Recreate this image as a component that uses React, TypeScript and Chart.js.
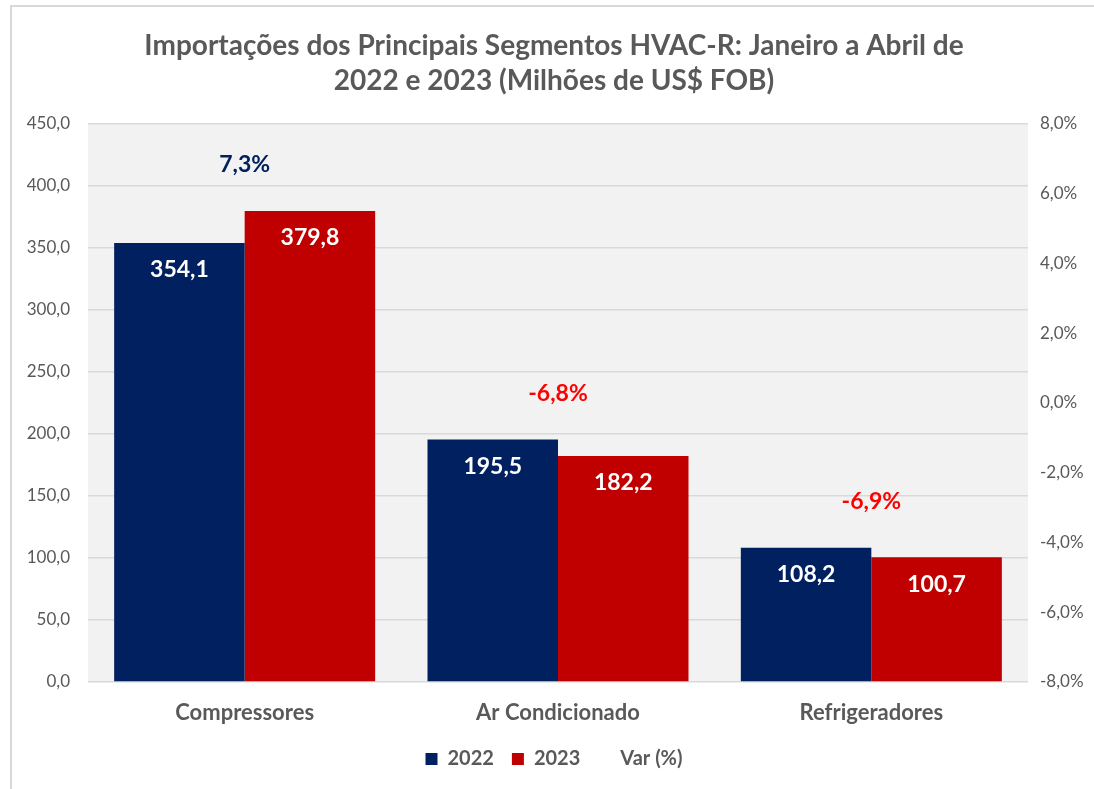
import React, { useEffect, useRef } from "react";
import { Chart, registerables } from "chart.js";

Chart.register(...registerables);

const categories = ["Compressores", "Ar Condicionado", "Refrigeradores"];
const values2022 = [354.1, 195.5, 108.2];
const values2023 = [379.8, 182.2, 100.7];
const variation = [7.3, -6.8, -6.9];
const titleLines = [
  "Importações dos Principais Segmentos HVAC-R: Janeiro a Abril de",
  "2022 e 2023 (Milhões de US$ FOB)",
];

const FONT = "Lato, 'Open Sans', sans-serif";
const GRAY = "#595959";
const NAVY = "#002060";
const RED = "#c00000";
const BRIGHT_RED = "#ff0000";

const fmt = (v: number, d = 1) => v.toFixed(d).replace(".", ",");

const plotBg = {
  id: "plotBg",
  beforeDraw(chart: any) {
    const { ctx, chartArea } = chart;
    ctx.save();
    ctx.fillStyle = "#f2f2f2";
    ctx.fillRect(chartArea.left, chartArea.top, chartArea.right - chartArea.left, chartArea.bottom - chartArea.top);
    ctx.restore();
  },
};

const labelsPlugin = {
  id: "valueLabels",
  afterDatasetsDraw(chart: any) {
    const { ctx } = chart;
    ctx.save();
    ctx.font = `bold 23px ${FONT}`;
    ctx.textAlign = "center";
    ctx.textBaseline = "middle";
    ctx.fillStyle = "#ffffff";
    [0, 1].forEach((di) => {
      const meta = chart.getDatasetMeta(di);
      meta.data.forEach((bar: any, i: number) => {
        const v = chart.data.datasets[di].data[i];
        ctx.fillText(fmt(v), bar.x, bar.y + 27);
      });
    });
    const yScale = chart.scales.y;
    const xScale = chart.scales.x;
    variation.forEach((v, i) => {
      const top = yScale.getPixelForValue(Math.max(values2022[i], values2023[i]));
      ctx.fillStyle = v >= 0 ? NAVY : BRIGHT_RED;
      ctx.fillText(fmt(v) + "%", xScale.getPixelForValue(i), top - 46);
    });
    ctx.restore();
  },
};

export default function App() {
  const ref = useRef<HTMLCanvasElement>(null);
  useEffect(() => {
    if (!ref.current) return;
    const chart = new Chart(ref.current, {
      type: "bar",
      data: {
        labels: categories,
        datasets: [
          {
            label: "2022",
            data: values2022,
            backgroundColor: NAVY,
            categoryPercentage: 0.833,
            barPercentage: 1,
            yAxisID: "y",
          },
          {
            label: "2023",
            data: values2023,
            backgroundColor: RED,
            categoryPercentage: 0.833,
            barPercentage: 1,
            yAxisID: "y",
          },
          {
            type: "line",
            label: "Var (%)",
            data: variation,
            borderColor: "rgba(0,0,0,0)",
            backgroundColor: "rgba(0,0,0,0)",
            pointRadius: 0,
            yAxisID: "y1",
          } as any,
        ],
      },
      options: {
        animation: false,
        responsive: false,
        layout: { padding: { left: 20, right: 6, top: 0, bottom: 10 } },
        plugins: {
          title: {
            display: true,
            text: titleLines,
            color: GRAY,
            font: { family: FONT, size: 28, weight: "bold", lineHeight: 1.25 },
            padding: { top: 28, bottom: 26 },
          },
          legend: {
            position: "bottom",
            labels: {
              color: GRAY,
              font: { family: FONT, size: 20, weight: "bold" },
              boxWidth: 12,
              boxHeight: 12,
              padding: 18,
              sort: (a: any, b: any) => a.datasetIndex - b.datasetIndex,
            },
          },
          tooltip: { enabled: false },
        },
        scales: {
          x: {
            grid: { display: false, drawTicks: false },
            border: { display: false },
            ticks: { color: GRAY, font: { family: FONT, size: 22, weight: "bold" }, padding: 18 },
            afterFit: (s: any) => { s.height = 49; },
          },
          y: {
            position: "left",
            min: 0,
            max: 450,
            ticks: { stepSize: 50, color: GRAY, font: { family: FONT, size: 17 }, padding: 18, callback: (v: any) => fmt(Number(v)) },
            grid: { color: "#d9d9d9", lineWidth: 1.5, drawTicks: false },
            border: { display: false },
            afterFit: (s: any) => { s.width = 68; },
          },
          y1: {
            position: "right",
            min: -8,
            max: 8,
            ticks: { stepSize: 2, color: GRAY, font: { family: FONT, size: 17 }, padding: 12, callback: (v: any) => fmt(Number(v)) + "%" },
            grid: { display: false, drawTicks: false },
            border: { display: false },
            afterFit: (s: any) => { s.width = 60; },
          },
        },
      },
      plugins: [plotBg, labelsPlugin],
    });
    return () => chart.destroy();
  }, []);
  return (
    <div style={{ position: "fixed", left: 0, top: 0, width: 1094, height: 789, overflow: "hidden", background: "#fff" }}>
      <div style={{ position: "absolute", left: 10, top: 5, width: 1200, height: 900, border: "2px solid #d9d9d9" }} />
      <canvas ref={ref} width={1094} height={789} style={{ position: "absolute", left: 0, top: 0 }} />
    </div>
  );
}
